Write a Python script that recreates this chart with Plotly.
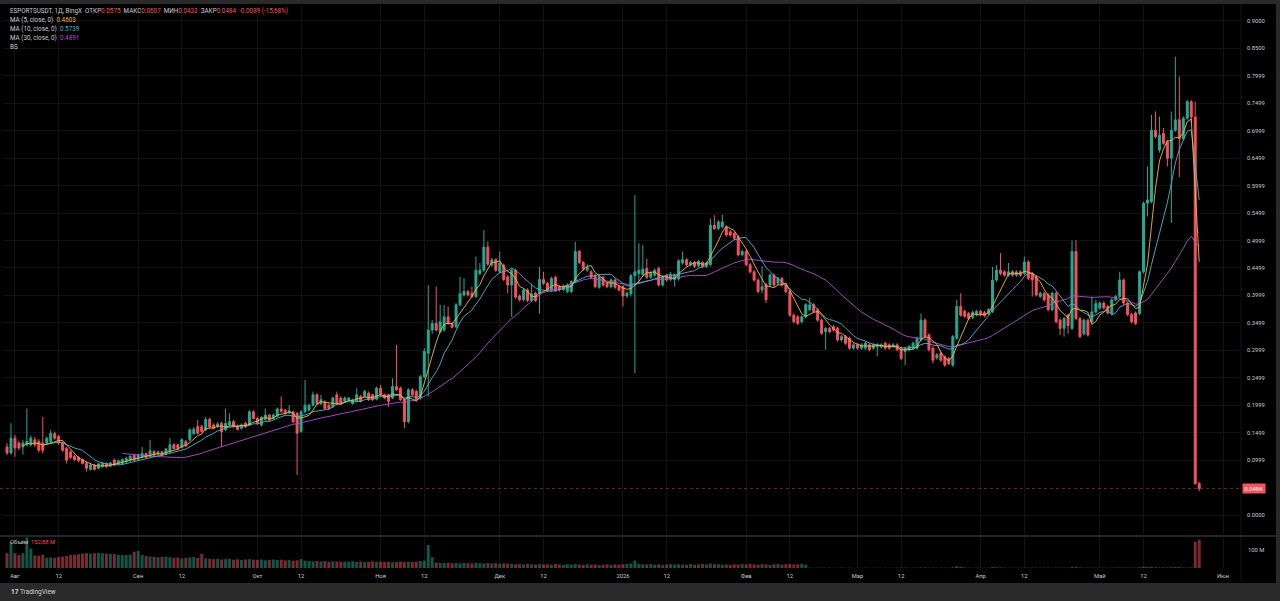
import pandas as pd
import plotly.graph_objects as go

# ---------------- data ----------------
start_date = "2025-07-30"
n_bars = 301
dates = pd.date_range(start_date, periods=n_bars, freq="D")

opens = [
    0.124, 0.113, 0.140, 0.131, 0.124, 0.128, 0.128, 0.137, 0.134, 0.131,
    0.131, 0.134, 0.148, 0.143, 0.131, 0.121, 0.115, 0.107, 0.105, 0.101,
    0.094, 0.083, 0.091, 0.085, 0.088, 0.094, 0.089, 0.100, 0.093, 0.094,
    0.097, 0.099, 0.109, 0.101, 0.105, 0.112, 0.107, 0.116, 0.111, 0.115,
    0.111, 0.115, 0.128, 0.128, 0.123, 0.134, 0.137, 0.148, 0.161, 0.161,
    0.155, 0.174, 0.164, 0.161, 0.167, 0.155, 0.164, 0.170, 0.162, 0.158,
    0.167, 0.164, 0.188, 0.176, 0.164, 0.174, 0.182, 0.176, 0.180, 0.193,
    0.191, 0.186, 0.188, 0.185, 0.152, 0.188, 0.191, 0.200, 0.219, 0.203,
    0.206, 0.200, 0.197, 0.219, 0.213, 0.207, 0.209, 0.203, 0.207, 0.216,
    0.216, 0.222, 0.219, 0.211, 0.231, 0.219, 0.219, 0.213, 0.234, 0.231,
    0.210, 0.170, 0.228, 0.225, 0.213, 0.252, 0.295, 0.337, 0.349, 0.334,
    0.337, 0.361, 0.349, 0.343, 0.383, 0.401, 0.407, 0.404, 0.398, 0.440,
    0.446, 0.488, 0.456, 0.465, 0.443, 0.455, 0.434, 0.419, 0.446, 0.399,
    0.392, 0.410, 0.391, 0.404, 0.404, 0.429, 0.422, 0.410, 0.433, 0.416,
    0.411, 0.407, 0.407, 0.425, 0.480, 0.460, 0.446, 0.443, 0.436, 0.415,
    0.433, 0.422, 0.416, 0.428, 0.416, 0.416, 0.399, 0.403, 0.436, 0.440,
    0.438, 0.449, 0.433, 0.437, 0.449, 0.419, 0.436, 0.429, 0.429, 0.430,
    0.459, 0.465, 0.456, 0.460, 0.454, 0.460, 0.453, 0.456, 0.528, 0.522,
    0.525, 0.525, 0.516, 0.513, 0.507, 0.474, 0.480, 0.456, 0.443, 0.428,
    0.410, 0.420, 0.419, 0.437, 0.422, 0.431, 0.419, 0.407, 0.364, 0.361,
    0.352, 0.361, 0.374, 0.383, 0.374, 0.355, 0.334, 0.340, 0.343, 0.340,
    0.319, 0.325, 0.322, 0.304, 0.310, 0.304, 0.304, 0.310, 0.304, 0.307,
    0.306, 0.313, 0.310, 0.307, 0.310, 0.304, 0.298, 0.301, 0.304, 0.304,
    0.319, 0.355, 0.328, 0.304, 0.286, 0.295, 0.288, 0.285, 0.273, 0.322,
    0.380, 0.371, 0.367, 0.360, 0.365, 0.371, 0.369, 0.367, 0.371, 0.428,
    0.446, 0.443, 0.437, 0.443, 0.437, 0.443, 0.440, 0.461, 0.440, 0.434,
    0.398, 0.404, 0.401, 0.374, 0.404, 0.355, 0.340, 0.364, 0.340, 0.480,
    0.358, 0.330, 0.355, 0.352, 0.370, 0.377, 0.386, 0.380, 0.367, 0.392,
    0.398, 0.428, 0.386, 0.365, 0.368, 0.367, 0.443, 0.568, 0.571, 0.701,
    0.665, 0.695, 0.680, 0.650, 0.701, 0.720, 0.686, 0.723, 0.753, 0.725,
    0.0575,
]

highs = [
    0.131, 0.167, 0.146, 0.135, 0.137, 0.194, 0.145, 0.142, 0.138, 0.179,
    0.143, 0.155, 0.152, 0.146, 0.134, 0.124, 0.118, 0.110, 0.107, 0.103,
    0.097, 0.094, 0.093, 0.095, 0.096, 0.096, 0.097, 0.103, 0.101, 0.103,
    0.106, 0.109, 0.111, 0.112, 0.124, 0.114, 0.137, 0.118, 0.117, 0.117,
    0.122, 0.140, 0.131, 0.130, 0.140, 0.137, 0.158, 0.160, 0.173, 0.164,
    0.179, 0.177, 0.167, 0.169, 0.170, 0.194, 0.185, 0.173, 0.165, 0.167,
    0.170, 0.191, 0.191, 0.179, 0.180, 0.194, 0.184, 0.185, 0.196, 0.216,
    0.193, 0.200, 0.190, 0.188, 0.191, 0.246, 0.203, 0.225, 0.222, 0.219,
    0.209, 0.203, 0.216, 0.225, 0.216, 0.216, 0.215, 0.212, 0.231, 0.219,
    0.228, 0.225, 0.221, 0.234, 0.237, 0.221, 0.221, 0.249, 0.310, 0.234,
    0.213, 0.231, 0.231, 0.228, 0.255, 0.304, 0.419, 0.355, 0.416, 0.383,
    0.383, 0.380, 0.352, 0.386, 0.434, 0.431, 0.410, 0.416, 0.471, 0.459,
    0.519, 0.498, 0.468, 0.468, 0.480, 0.458, 0.437, 0.449, 0.449, 0.402,
    0.413, 0.413, 0.419, 0.407, 0.452, 0.443, 0.425, 0.434, 0.436, 0.419,
    0.420, 0.422, 0.428, 0.498, 0.483, 0.463, 0.457, 0.446, 0.439, 0.437,
    0.436, 0.425, 0.431, 0.431, 0.419, 0.419, 0.407, 0.439, 0.583, 0.495,
    0.492, 0.467, 0.444, 0.449, 0.452, 0.437, 0.439, 0.443, 0.440, 0.466,
    0.480, 0.468, 0.463, 0.463, 0.465, 0.463, 0.462, 0.540, 0.546, 0.537,
    0.547, 0.528, 0.519, 0.516, 0.510, 0.483, 0.483, 0.459, 0.446, 0.431,
    0.453, 0.423, 0.440, 0.440, 0.434, 0.434, 0.422, 0.410, 0.367, 0.364,
    0.364, 0.386, 0.395, 0.386, 0.377, 0.358, 0.343, 0.343, 0.346, 0.343,
    0.328, 0.328, 0.325, 0.313, 0.313, 0.313, 0.316, 0.313, 0.313, 0.313,
    0.313, 0.316, 0.313, 0.313, 0.313, 0.307, 0.307, 0.310, 0.316, 0.325,
    0.367, 0.358, 0.331, 0.307, 0.295, 0.298, 0.291, 0.288, 0.328, 0.392,
    0.404, 0.374, 0.370, 0.372, 0.374, 0.374, 0.372, 0.377, 0.452, 0.455,
    0.477, 0.446, 0.459, 0.446, 0.446, 0.446, 0.471, 0.464, 0.443, 0.437,
    0.407, 0.407, 0.404, 0.407, 0.407, 0.358, 0.361, 0.367, 0.500, 0.501,
    0.361, 0.358, 0.358, 0.398, 0.392, 0.389, 0.389, 0.383, 0.395, 0.401,
    0.443, 0.431, 0.389, 0.368, 0.371, 0.446, 0.571, 0.635, 0.729, 0.735,
    0.726, 0.705, 0.683, 0.735, 0.835, 0.799, 0.726, 0.756, 0.756, 0.753,
    0.0607,
]

lows = [
    0.109, 0.110, 0.106, 0.118, 0.110, 0.125, 0.125, 0.124, 0.114, 0.112,
    0.128, 0.130, 0.137, 0.128, 0.115, 0.094, 0.102, 0.098, 0.096, 0.092,
    0.079, 0.081, 0.081, 0.083, 0.086, 0.086, 0.087, 0.089, 0.091, 0.092,
    0.095, 0.097, 0.098, 0.099, 0.103, 0.103, 0.105, 0.107, 0.109, 0.107,
    0.109, 0.113, 0.119, 0.118, 0.121, 0.124, 0.135, 0.146, 0.147, 0.150,
    0.153, 0.158, 0.156, 0.159, 0.124, 0.153, 0.162, 0.159, 0.154, 0.156,
    0.159, 0.162, 0.174, 0.164, 0.161, 0.172, 0.170, 0.174, 0.178, 0.186,
    0.183, 0.184, 0.167, 0.073, 0.150, 0.186, 0.189, 0.198, 0.200, 0.200,
    0.192, 0.191, 0.195, 0.200, 0.201, 0.205, 0.207, 0.201, 0.205, 0.205,
    0.214, 0.208, 0.208, 0.209, 0.217, 0.211, 0.197, 0.211, 0.226, 0.208,
    0.158, 0.167, 0.216, 0.207, 0.210, 0.249, 0.216, 0.330, 0.334, 0.331,
    0.334, 0.346, 0.340, 0.340, 0.380, 0.398, 0.398, 0.395, 0.395, 0.437,
    0.443, 0.454, 0.452, 0.443, 0.440, 0.426, 0.404, 0.361, 0.394, 0.389,
    0.389, 0.388, 0.388, 0.388, 0.367, 0.419, 0.407, 0.407, 0.406, 0.407,
    0.408, 0.404, 0.404, 0.422, 0.457, 0.445, 0.443, 0.430, 0.413, 0.412,
    0.416, 0.413, 0.413, 0.412, 0.407, 0.380, 0.396, 0.398, 0.258, 0.422,
    0.435, 0.430, 0.430, 0.434, 0.416, 0.416, 0.425, 0.426, 0.416, 0.427,
    0.456, 0.453, 0.453, 0.450, 0.451, 0.450, 0.450, 0.453, 0.519, 0.519,
    0.522, 0.507, 0.507, 0.501, 0.471, 0.471, 0.453, 0.440, 0.425, 0.404,
    0.404, 0.386, 0.416, 0.416, 0.419, 0.416, 0.404, 0.361, 0.349, 0.346,
    0.349, 0.358, 0.371, 0.368, 0.352, 0.328, 0.301, 0.331, 0.334, 0.316,
    0.316, 0.310, 0.301, 0.301, 0.301, 0.301, 0.301, 0.298, 0.301, 0.289,
    0.303, 0.301, 0.301, 0.304, 0.298, 0.282, 0.273, 0.298, 0.301, 0.301,
    0.316, 0.322, 0.298, 0.276, 0.283, 0.279, 0.270, 0.273, 0.270, 0.319,
    0.361, 0.359, 0.355, 0.357, 0.362, 0.362, 0.360, 0.364, 0.368, 0.425,
    0.437, 0.434, 0.434, 0.434, 0.434, 0.434, 0.437, 0.428, 0.398, 0.398,
    0.395, 0.389, 0.371, 0.371, 0.349, 0.328, 0.325, 0.330, 0.337, 0.355,
    0.322, 0.327, 0.325, 0.349, 0.367, 0.374, 0.374, 0.365, 0.364, 0.389,
    0.395, 0.383, 0.362, 0.349, 0.346, 0.364, 0.440, 0.544, 0.568, 0.686,
    0.660, 0.674, 0.635, 0.532, 0.698, 0.616, 0.683, 0.720, 0.715, 0.0550,
    0.0433,
]

closes = [
    0.113, 0.140, 0.122, 0.122, 0.131, 0.134, 0.140, 0.128, 0.118, 0.118,
    0.140, 0.149, 0.140, 0.131, 0.118, 0.100, 0.105, 0.101, 0.099, 0.094,
    0.085, 0.091, 0.083, 0.093, 0.094, 0.088, 0.095, 0.091, 0.099, 0.101,
    0.103, 0.107, 0.100, 0.109, 0.112, 0.105, 0.117, 0.109, 0.115, 0.109,
    0.120, 0.128, 0.121, 0.121, 0.137, 0.126, 0.155, 0.156, 0.149, 0.152,
    0.174, 0.160, 0.158, 0.166, 0.152, 0.167, 0.170, 0.161, 0.156, 0.164,
    0.161, 0.188, 0.176, 0.167, 0.178, 0.182, 0.173, 0.182, 0.193, 0.189,
    0.185, 0.190, 0.170, 0.149, 0.188, 0.200, 0.200, 0.219, 0.203, 0.210,
    0.194, 0.194, 0.213, 0.203, 0.203, 0.213, 0.213, 0.210, 0.219, 0.207,
    0.225, 0.210, 0.210, 0.231, 0.219, 0.213, 0.207, 0.234, 0.228, 0.210,
    0.170, 0.228, 0.219, 0.210, 0.252, 0.298, 0.337, 0.349, 0.337, 0.352,
    0.361, 0.349, 0.342, 0.383, 0.403, 0.407, 0.401, 0.398, 0.446, 0.446,
    0.488, 0.457, 0.465, 0.446, 0.459, 0.429, 0.419, 0.446, 0.397, 0.392,
    0.410, 0.391, 0.403, 0.391, 0.429, 0.422, 0.410, 0.431, 0.409, 0.410,
    0.417, 0.419, 0.425, 0.480, 0.460, 0.448, 0.451, 0.433, 0.416, 0.434,
    0.419, 0.416, 0.428, 0.415, 0.410, 0.399, 0.404, 0.436, 0.443, 0.446,
    0.448, 0.433, 0.441, 0.446, 0.419, 0.434, 0.428, 0.437, 0.437, 0.463,
    0.465, 0.456, 0.460, 0.453, 0.462, 0.453, 0.459, 0.528, 0.522, 0.534,
    0.534, 0.510, 0.510, 0.504, 0.474, 0.480, 0.456, 0.443, 0.428, 0.407,
    0.416, 0.392, 0.437, 0.419, 0.431, 0.419, 0.407, 0.364, 0.352, 0.349,
    0.361, 0.383, 0.383, 0.371, 0.355, 0.331, 0.340, 0.334, 0.337, 0.319,
    0.325, 0.313, 0.304, 0.310, 0.304, 0.310, 0.313, 0.301, 0.310, 0.310,
    0.310, 0.304, 0.304, 0.310, 0.301, 0.285, 0.304, 0.307, 0.313, 0.322,
    0.355, 0.325, 0.301, 0.282, 0.292, 0.282, 0.273, 0.276, 0.325, 0.380,
    0.364, 0.362, 0.358, 0.369, 0.371, 0.365, 0.363, 0.374, 0.428, 0.446,
    0.440, 0.437, 0.443, 0.437, 0.443, 0.437, 0.461, 0.431, 0.428, 0.401,
    0.404, 0.392, 0.374, 0.404, 0.352, 0.340, 0.358, 0.345, 0.480, 0.358,
    0.325, 0.355, 0.328, 0.370, 0.385, 0.386, 0.377, 0.368, 0.392, 0.398,
    0.428, 0.386, 0.365, 0.352, 0.349, 0.443, 0.568, 0.574, 0.701, 0.689,
    0.692, 0.677, 0.650, 0.701, 0.720, 0.686, 0.723, 0.753, 0.725, 0.0573,
    0.0484,
]

volumes_m = [
    80, 140, 80, 70, 80, 165, 105, 68, 65, 72,
    56, 58, 55, 60, 62, 65, 70, 72, 75, 78,
    80, 78, 80, 82, 80, 78, 76, 75, 72, 70,
    70, 72, 88, 92, 70, 65, 62, 60, 58, 60,
    62, 58, 55, 56, 52, 55, 58, 60, 55, 76,
    52, 50, 48, 50, 46, 48, 50, 45, 47, 44,
    46, 48, 45, 44, 46, 42, 44, 46, 43, 45,
    42, 44, 40, 42, 48, 40, 38, 36, 38, 35,
    37, 34, 36, 35, 33, 35, 34, 36, 33, 35,
    32, 34, 36, 33, 35, 32, 34, 31, 33, 35,
    32, 34, 33, 35, 38, 40, 124, 58, 30, 28,
    27, 29, 26, 28, 25, 27, 26, 24, 28, 26,
    25, 27, 24, 26, 23, 25, 24, 22, 20, 21,
    19, 22, 20, 18, 21, 19, 20, 18, 22, 19,
    17, 20, 18, 21, 19, 17, 20, 18, 19, 16,
    18, 20, 17, 19, 18, 20, 22, 24, 40, 22,
    20, 19, 21, 18, 20, 17, 19, 21, 18, 20,
    19, 17, 21, 18, 20, 22, 19, 24, 21, 20,
    18, 19, 17, 20, 18, 21, 19, 22, 20, 18,
    21, 19, 17, 20, 22, 18, 20, 21, 19, 20,
    22, 18, 2, 1.5, 2, 1.8, 1.5, 2, 1.2, 1.5,
    1.8, 1.2, 1.5, 1, 1.3, 1.2, 1.5, 1, 1.2, 1.4,
    1.1, 1.3, 1, 1.2, 1.5, 2.5, 1.8, 1.2, 1.5, 2,
    3, 2.5, 2, 2.2, 1.5, 1.8, 2, 1.5, 4, 10,
    6, 3, 2, 1.5, 1.8, 1.5, 1.2, 1.6, 5, 4,
    3, 2, 1.5, 1.8, 1.4, 1.5, 2.5, 2, 1.8, 2.2,
    1.5, 1.8, 2, 1.6, 2.5, 2, 1.8, 2, 6, 5,
    3, 2, 1.8, 2.2, 2, 1.5, 1.6, 1.4, 2, 2.5,
    3, 2.5, 1.8, 2, 2.2, 4, 7, 5, 6, 4,
    3, 3.5, 3, 4, 5, 5, 3, 2.5, 3, 142,
    153,
]

price_tickvals = [0.90, 0.85, 0.80, 0.75, 0.70, 0.65, 0.60, 0.55, 0.50, 0.45,
                  0.40, 0.35, 0.30, 0.25, 0.20, 0.15, 0.10, 0.0]
price_ticktext = ["0.9000", "0.8500", "0.7999", "0.7499", "0.6999", "0.6499",
                  "0.5999", "0.5499", "0.4999", "0.4499", "0.3999", "0.3499",
                  "0.2999", "0.2499", "0.1999", "0.1499", "0.0999", "0.0000"]

date_tickvals = ["2025-08-01", "2025-08-12", "2025-09-01", "2025-09-12",
                 "2025-10-01", "2025-10-12", "2025-11-01", "2025-11-12",
                 "2025-12-01", "2025-12-12", "2026-01-01", "2026-01-12",
                 "2026-02-01", "2026-02-12", "2026-03-01", "2026-03-12",
                 "2026-04-01", "2026-04-12", "2026-05-01", "2026-05-12",
                 "2026-06-01"]
date_ticktext = ["Авг", "12", "Сен", "12", "Окт", "12", "Ноя", "12", "Дек", "12",
                 "2026", "12", "Фев", "12", "Мар", "12", "Апр", "12", "Май", "12",
                 "Июн"]

last_price = 0.0484

# ---------------- styling ----------------
W, H = 1280, 601
GREEN = "#22ab94"
RED = "#f7525f"
MA5_C = "#f5b83d"
MA10_C = "#4db6d0"
MA30_C = "#b24fd1"
TXT = "#c9cbd1"
GRID = "#121212"
FRAME = "#2a2a2a"
FONT = "Roboto"


def px(X):
    return X / W


def py(Y):
    return (H - Y) / H


s = pd.Series(closes)
ma5 = s.rolling(5).mean()
ma10 = s.rolling(10).mean()
ma30 = s.rolling(30).mean()

vol_colors = ["rgba(34,171,148,0.5)" if c >= o else "rgba(247,82,95,0.5)"
              for o, c in zip(opens, closes)]

fig = go.Figure()
fig.add_trace(go.Candlestick(
    x=dates, open=opens, high=highs, low=lows, close=closes,
    increasing=dict(line=dict(color=GREEN, width=1), fillcolor=GREEN),
    decreasing=dict(line=dict(color=RED, width=1), fillcolor=RED),
    whiskerwidth=0, showlegend=False, hoverinfo="skip",
    xaxis="x", yaxis="y"))
for ma, col in ((ma30, MA30_C), (ma10, MA10_C), (ma5, MA5_C)):
    fig.add_trace(go.Scatter(x=dates, y=ma, mode="lines",
                             line=dict(color=col, width=0.9),
                             showlegend=False, hoverinfo="skip",
                             xaxis="x", yaxis="y"))
fig.add_trace(go.Bar(x=dates, y=volumes_m, marker=dict(color=vol_colors, line=dict(width=0)),
                     showlegend=False, hoverinfo="skip", xaxis="x2", yaxis="y2"))

x_range = ["2025-07-28 23:50", "2026-06-05 06:29"]
xdom = [px(3), px(1240)]

common_x = dict(type="date", range=x_range, domain=xdom, showgrid=True,
                gridcolor=GRID, gridwidth=1, tickvals=date_tickvals,
                ticktext=date_ticktext, zeroline=False, showline=False,
                fixedrange=True)

shapes = [
    # black chart background
    dict(type="rect", xref="paper", yref="paper", x0=0, x1=px(1276),
         y0=py(583), y1=py(4), fillcolor="#000000", line=dict(width=0), layer="below"),
    # separator between panes
    dict(type="line", xref="paper", yref="paper", x0=0, x1=px(1276),
         y0=py(536), y1=py(536), line=dict(color="#4a4a4a", width=1)),
    # vertical border of price scale
    dict(type="line", xref="paper", yref="paper", x0=px(1241), x1=px(1241),
         y0=py(583), y1=py(4), line=dict(color="#161616", width=1), layer="below"),
    # last price dotted line
    dict(type="line", xref="paper", yref="y", x0=px(0), x1=px(1240),
         y0=last_price, y1=last_price, line=dict(color="rgba(247,82,95,0.45)", width=1, dash="dot")),
]

fs = 5.8
fl = 6.3


def sp(text, color):
    return f"<span style='color:{color}'>{text}</span>"


legend1 = ("ESPORTSUSDT, 1Д, BingX\u00a0\u00a0ОТКР" + sp("0.0575", RED) +
           "\u00a0\u00a0МАКС" + sp("0.0607", RED) +
           "\u00a0\u00a0МИН" + sp("0.0433", RED) +
           "\u00a0\u00a0ЗАКР" + sp("0.0484", RED) +
           "\u00a0\u00a0" + sp("-0.0089 (-15,68%)", RED))
legend_lines = [
    (11, legend1),
    (20, "MA (5, close, 0)\u00a0\u00a0" + sp("0.4603", MA5_C)),
    (29, "MA (10, close, 0)\u00a0\u00a0" + sp("0.5739", MA10_C)),
    (38, "MA (30, close, 0)\u00a0\u00a0" + sp("0.4891", MA30_C)),
    (47, "BS"),
]
annotations = []
for yy, txt in legend_lines:
    annotations.append(dict(xref="paper", yref="paper", x=px(8), y=py(yy), text=txt,
                            showarrow=False, xanchor="left", yanchor="middle",
                            font=dict(family=FONT, size=fl, color=TXT)))
annotations += [
    dict(xref="paper", yref="paper", x=px(8), y=py(541.5),
         text="Объём\u00a0\u00a0" + sp("152,88 M", RED), showarrow=False,
         xanchor="left", yanchor="middle", font=dict(family=FONT, size=fs, color=TXT)),
    dict(xref="paper", yref="paper", x=px(1246), y=py(549.5), text="100 M",
         showarrow=False, xanchor="left", yanchor="middle",
         font=dict(family=FONT, size=fs, color=TXT)),
    dict(xref="paper", yref="y", x=px(1242), y=last_price, text="0.0484",
         showarrow=False, xanchor="left", yanchor="middle", bgcolor=RED,
         borderpad=1.5, font=dict(family=FONT, size=fs, color="#ffffff")),
    dict(xref="paper", yref="paper", x=px(9), y=py(592),
         text="<b>17</b> TradingView", showarrow=False, xanchor="left",
         yanchor="middle", font=dict(family=FONT, size=6.5, color="#d1d4dc")),
]

fig.update_layout(
    width=W, height=H, margin=dict(l=0, r=0, t=0, b=0),
    paper_bgcolor=FRAME, plot_bgcolor="rgba(0,0,0,0)",
    font=dict(family=FONT, size=fs, color=TXT),
    bargap=0.25, showlegend=False, dragmode=False,
    xaxis=dict(common_x, anchor="y", showticklabels=False, matches="x2",
               rangeslider=dict(visible=False)),
    xaxis2=dict(common_x, anchor="y2", showticklabels=True,
                ticks="", ticklabelstandoff=3,
                tickfont=dict(family=FONT, size=fs, color=TXT)),
    yaxis=dict(domain=[py(535), py(5)], range=[-0.03644, 0.92913], side="right",
               anchor="x", tickvals=price_tickvals, ticktext=price_ticktext,
               showgrid=True, gridcolor=GRID, zeroline=False, ticks="",
               ticklabelstandoff=6, tickfont=dict(family=FONT, size=fs, color=TXT),
               fixedrange=True),
    yaxis2=dict(domain=[py(568), py(537)], range=[0, 167.6], side="right",
                anchor="x2", showticklabels=False, showgrid=False,
                zeroline=False, fixedrange=True),
    shapes=shapes, annotations=annotations,
)

fig.write_html("out.html", include_plotlyjs=True, full_html=True,
               config=dict(displayModeBar=False, staticPlot=True),
               post_script="document.body.style.margin='0';document.body.style.overflow='hidden';document.body.style.background='#2a2a2a';")
